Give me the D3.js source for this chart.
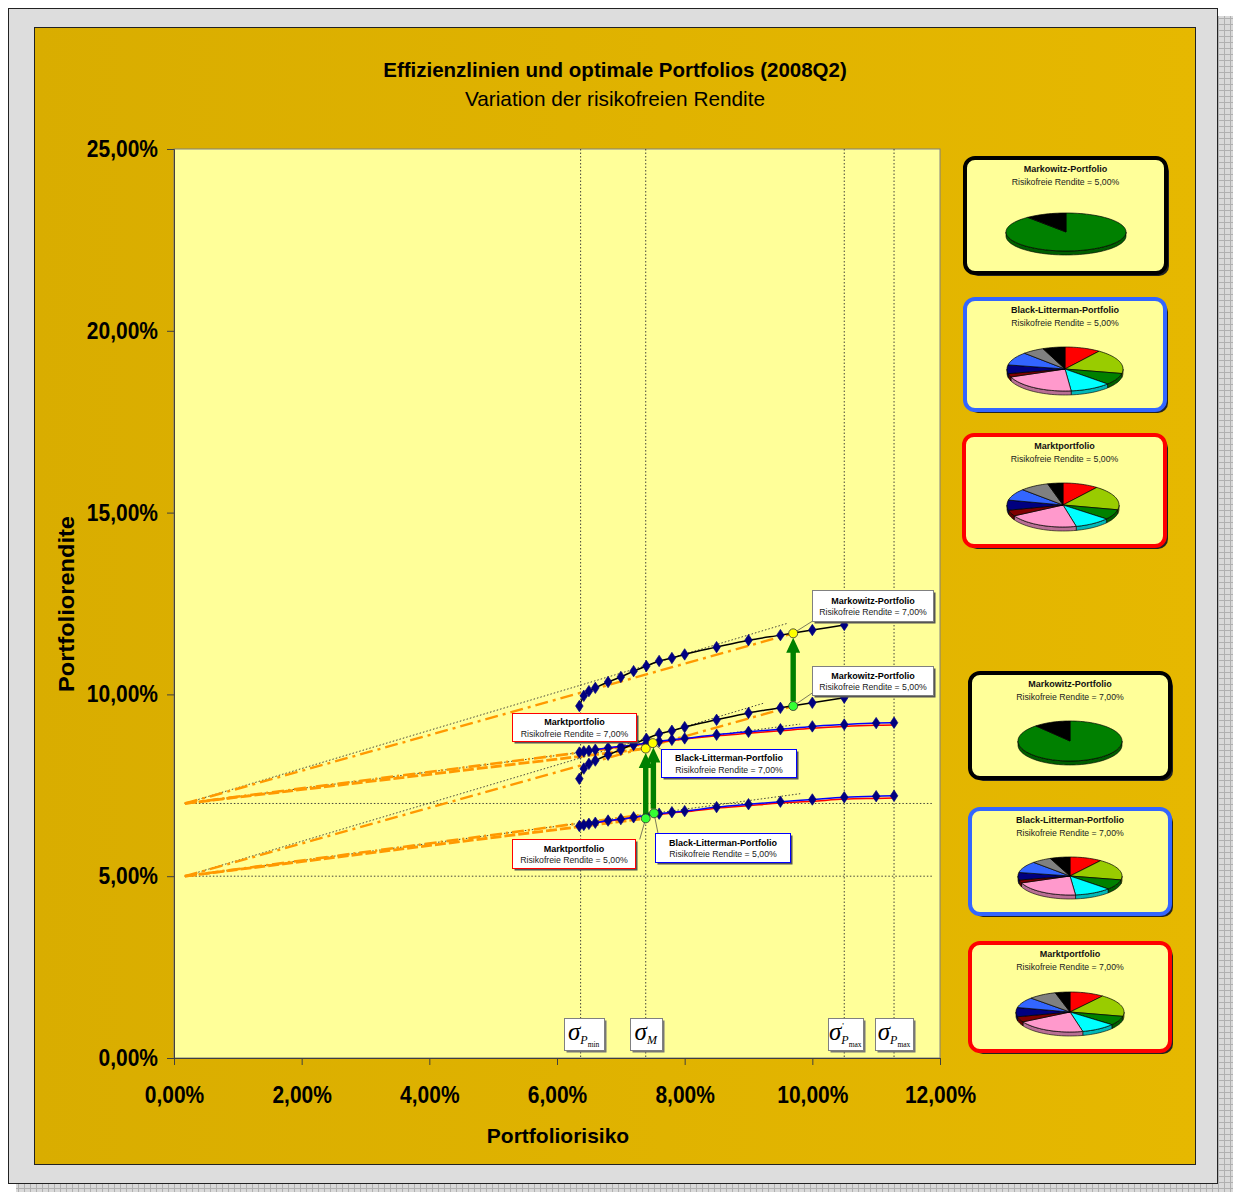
<!DOCTYPE html>
<html>
<head>
<meta charset="utf-8">
<script src="https://cdn.jsdelivr.net/npm/d3@7"></script>
<style>
  body { margin: 0; background: #ffffff; }
  svg { display: block; }
</style>
</head>
<body>
<svg id="chart" width="1233" height="1192"></svg>
<script>
// ---------- data (percent) ----------
const riskFreeRates = [5, 7];
const riskFreeSigma = 0.17;

// Markowitz efficient frontier
const sigmaMarkowitz = [6.35, 6.42, 6.50, 6.60, 6.80, 7.00, 7.20, 7.40, 7.60, 7.80, 8.00, 8.50, 9.00, 9.50, 10.00, 10.50];
const muMarkowitz5  = [7.68, 7.96, 8.09, 8.18, 8.34, 8.48, 8.64, 8.78, 8.92, 9.00, 9.10, 9.30, 9.49, 9.63, 9.77, 9.91];
const muMarkowitz7  = [9.68, 9.96, 10.09, 10.18, 10.34, 10.48, 10.64, 10.78, 10.92, 11.00, 11.10, 11.30, 11.49, 11.63, 11.77, 11.91];

// Black-Litterman and market (implied) frontiers
const sigmaBL   = [6.35, 6.42, 6.50, 6.60, 6.80, 7.00, 7.20, 7.40, 7.60, 7.80, 8.00, 8.50, 9.00, 9.50, 10.00, 10.50, 11.00, 11.28];
const muBL5     = [6.38, 6.41, 6.44, 6.47, 6.53, 6.57, 6.62, 6.67, 6.72, 6.76, 6.79, 6.90, 6.98, 7.05, 7.11, 7.17, 7.20, 7.21];
const muBL7     = [8.40, 8.43, 8.45, 8.48, 8.53, 8.57, 8.61, 8.66, 8.71, 8.75, 8.79, 8.89, 8.97, 9.04, 9.12, 9.17, 9.21, 9.22];
const muMarket5 = [6.38, 6.41, 6.44, 6.47, 6.52, 6.56, 6.61, 6.66, 6.70, 6.74, 6.77, 6.87, 6.94, 7.01, 7.06, 7.12, 7.14, 7.15];
const muMarket7 = [8.40, 8.43, 8.45, 8.48, 8.52, 8.56, 8.60, 8.65, 8.69, 8.73, 8.77, 8.86, 8.93, 9.00, 9.07, 9.12, 9.15, 9.16];

// optimal (tangency) portfolios, one entry per risk-free rate [5 %, 7 %]
const optSigmaMarkowitz = [9.70, 9.70];
const optMuMarkowitz    = [9.68, 11.68];
const optSigmaMarket    = [7.39, 7.39];
const optMuMarket       = [6.59, 8.51];
const optSigmaBL        = [7.52, 7.50];
const optMuBL           = [6.73, 8.66];

// steeper reference lines from the risk-free point
const refEndSigmaMarkowitz = [9.24, 9.62];
const refEndMuMarkowitz    = [9.76, 11.96];
const refEndSigmaBL        = [9.81, 9.81];

// characteristic risk levels
const sigmaMarkers = ['Pmin', 'M', 'Pmax\'', 'Pmax'];
const sigmaMarkerValues = [6.37, 7.39, 10.50, 11.28];

// axis ticks
const xTicks = [0, 2, 4, 6, 8, 10, 12];
const yTicks = [0, 5, 10, 15, 20, 25];

// portfolio weights (asset order fixed, clockwise from 12 o'clock)
const assetColors = ['#FF0000', '#99CC00', '#008000', '#00FFFF', '#FF99CC', '#800000', '#000080', '#3366FF', '#808080', '#000000'];
const weightsMarkowitz5 = [0, 0, 89.0, 0, 0, 0, 0, 0, 0, 11.0];
const weightsMarkowitz7 = [0, 0, 88.6, 0, 0, 0, 0, 0, 0, 11.4];
const weightsBL5     = [10.0, 18.3, 8.6, 11.4, 20.8, 2.5, 6.4, 9.7, 6.1, 6.2];
const weightsBL7     = [10.0, 18.3, 8.6, 11.4, 20.8, 2.5, 6.4, 9.7, 6.1, 6.2];
const weightsMarket5 = [10.3, 18.2, 7.4, 10.3, 20.6, 4.4, 7.4, 8.6, 8.4, 4.4];
const weightsMarket7 = [10.3, 18.2, 7.4, 10.3, 20.6, 4.4, 7.4, 8.6, 8.4, 4.4];

// ---------- helpers ----------
const fmtPct = v => d3.format('.2f')(v).replace('.', ',') + '%';
const FONT = "'Liberation Sans', Arial, sans-serif";
const SERIF = "'Liberation Serif', 'Times New Roman', serif";

const svg = d3.select('#chart');
const defs = svg.append('defs');

const mesh = defs.append('pattern').attr('id', 'mesh')
  .attr('width', 6).attr('height', 6).attr('patternUnits', 'userSpaceOnUse');
mesh.append('rect').attr('width', 6).attr('height', 6).attr('fill', '#d9d9d9');
mesh.append('path').attr('d', 'M0,0.5H6M0.5,0V6').attr('stroke', '#b0b0b0').attr('stroke-width', 1);

const gold = defs.append('linearGradient').attr('id', 'gold')
  .attr('x1', 0).attr('x2', 1).attr('y1', 0).attr('y2', 0);
gold.append('stop').attr('offset', 0).attr('stop-color', '#d9ad00');
gold.append('stop').attr('offset', 1).attr('stop-color', '#e6b800');

// frame, drop shadow and chart panel
svg.append('rect').attr('x', 16).attr('y', 16).attr('width', 1217).attr('height', 1176).attr('fill', 'url(#mesh)');
svg.append('rect').attr('x', 8.5).attr('y', 8.5).attr('width', 1209).attr('height', 1175)
  .attr('fill', '#dddddd').attr('stroke', '#222').attr('stroke-width', 1);
svg.append('rect').attr('x', 34.5).attr('y', 27.5).attr('width', 1161).attr('height', 1137)
  .attr('fill', 'url(#gold)').attr('stroke', '#222').attr('stroke-width', 1);

// titles
svg.append('text').attr('x', 615).attr('y', 77).attr('text-anchor', 'middle')
  .attr('font-family', FONT).attr('font-size', 20.5).attr('font-weight', 'bold').attr('fill', '#000')
  .text('Effizienzlinien und optimale Portfolios (2008Q2)');
svg.append('text').attr('x', 615).attr('y', 106).attr('text-anchor', 'middle')
  .attr('font-family', FONT).attr('font-size', 20.8).attr('fill', '#000')
  .text('Variation der risikofreien Rendite');

// ---------- plot area ----------
const PL = 174, PR = 940, PT = 149, PB = 1058;
const x = d3.scaleLinear().domain([0, 12]).range([PL, PR]);
const y = d3.scaleLinear().domain([0, 25]).range([PB, PT]);

svg.append('rect').attr('x', PL).attr('y', PT).attr('width', PR - PL).attr('height', PB - PT)
  .attr('fill', '#FFFF99').attr('stroke', '#808080').attr('stroke-width', 1);

defs.append('clipPath').attr('id', 'plotClip').append('rect')
  .attr('x', PL).attr('y', PT).attr('width', PR - PL).attr('height', PB - PT);

// axes (tick labels slightly stretched vertically)
const yAxis = d3.axisLeft(y).tickValues(yTicks).tickSize(7).tickPadding(9).tickFormat(fmtPct);
const xAxis = d3.axisBottom(x).tickValues(xTicks).tickSize(7).tickPadding(18).tickFormat(fmtPct);
const gy = svg.append('g').attr('transform', `translate(${PL},0)`).call(yAxis);
const gx = svg.append('g').attr('transform', `translate(0,${PB})`).call(xAxis);
[gx, gy].forEach(g => {
  g.select('.domain').attr('stroke', '#404040');
  g.selectAll('.tick line').attr('stroke', '#404040');
  g.selectAll('.tick text').attr('font-family', FONT).attr('font-size', 21)
    .attr('font-weight', 'bold').attr('fill', '#000').attr('transform', 'scale(1,1.12)');
});

svg.append('text').attr('x', 558).attr('y', 1143).attr('text-anchor', 'middle')
  .attr('font-family', FONT).attr('font-size', 21).attr('font-weight', 'bold').text('Portfoliorisiko');
svg.append('text').attr('transform', 'translate(74,604) rotate(-90)').attr('text-anchor', 'middle')
  .attr('font-family', FONT).attr('font-size', 22).attr('font-weight', 'bold')
  .attr('textLength', 176).attr('lengthAdjust', 'spacingAndGlyphs').text('Portfoliorendite');

const plotG = svg.append('g').attr('clip-path', 'url(#plotClip)');

const DOT = { stroke: '#303030', 'stroke-width': 0.9, 'stroke-dasharray': '1.5,2' };
const applyAttrs = (sel, attrs) => { Object.entries(attrs).forEach(([k, v]) => sel.attr(k, v)); return sel; };
const seg = (x1, y1, x2, y2) => `M${x(x1)},${y(y1)}L${x(x2)},${y(y2)}`;

// vertical risk markers
sigmaMarkerValues.forEach(s => {
  applyAttrs(plotG.append('path').attr('d', `M${x(s)},${PT}V${PB}`).attr('fill', 'none'), DOT);
});

// horizontal risk-free levels
riskFreeRates.forEach(r => {
  applyAttrs(plotG.append('path').attr('d', seg(riskFreeSigma, r, 11.9, r)).attr('fill', 'none'), DOT);
});

// lines from the risk-free points
riskFreeRates.forEach((r, i) => {
  // steep reference line (Markowitz)
  applyAttrs(plotG.append('path').attr('fill', 'none')
    .attr('d', seg(riskFreeSigma, r, refEndSigmaMarkowitz[i], refEndMuMarkowitz[i])), DOT);
  // reference line through the Black-Litterman optimum
  const slopeBL = (optMuBL[i] - r) / (optSigmaBL[i] - riskFreeSigma);
  const endBL = r + slopeBL * (refEndSigmaBL[i] - riskFreeSigma);
  applyAttrs(plotG.append('path').attr('fill', 'none')
    .attr('d', seg(riskFreeSigma, r, refEndSigmaBL[i], endBL)), DOT);
  // capital market lines
  plotG.append('path').attr('fill', 'none')
    .attr('d', seg(riskFreeSigma, r, optSigmaMarkowitz[i], optMuMarkowitz[i]))
    .attr('stroke', '#FF9900').attr('stroke-width', 2.4).attr('stroke-dasharray', '13,5,3,5');
  plotG.append('path').attr('fill', 'none')
    .attr('d', seg(riskFreeSigma, r, optSigmaMarket[i], optMuMarket[i]))
    .attr('stroke', '#FF9900').attr('stroke-width', 2.8).attr('stroke-dasharray', '11,3');
  plotG.append('path').attr('fill', 'none')
    .attr('d', seg(riskFreeSigma, r, optSigmaBL[i], optMuBL[i]))
    .attr('stroke', '#FF9900').attr('stroke-width', 2.6).attr('stroke-dasharray', '12,4,2,4');
});

// frontiers
const line = d3.line().x(d => x(d[0])).y(d => y(d[1])).curve(d3.curveMonotoneX);
const zip = (a, b) => a.map((v, i) => [v, b[i]]);
const frontiers = [
  { pts: zip(sigmaBL, muMarket5), color: '#FF0000', marks: false },
  { pts: zip(sigmaBL, muMarket7), color: '#FF0000', marks: false },
  { pts: zip(sigmaBL, muBL5), color: '#0000FF', marks: true },
  { pts: zip(sigmaBL, muBL7), color: '#0000FF', marks: true },
  { pts: zip(sigmaMarkowitz, muMarkowitz5), color: '#000000', marks: true },
  { pts: zip(sigmaMarkowitz, muMarkowitz7), color: '#000000', marks: true }
];
frontiers.forEach(f => {
  plotG.append('path').attr('d', line(f.pts)).attr('fill', 'none')
    .attr('stroke', f.color).attr('stroke-width', 1.5);
});
const diamond = d3.symbol().type(d3.symbolDiamond).size(38);
frontiers.filter(f => f.marks).forEach(f => {
  plotG.selectAll(null).data(f.pts).join('path')
    .attr('d', diamond).attr('transform', d => `translate(${x(d[0])},${y(d[1])}) scale(1.15,1)`)
    .attr('fill', '#000080').attr('stroke', '#000080').attr('stroke-width', 0.6);
});

// arrows from the 5 % optimum to the 7 % optimum
const R = 4.5;
function arrow(sx, m0, m1) {
  const cx = x(sx), y0 = y(m0) - R, y1 = y(m1) + R;
  const hl = 15, hw = 7, sw = 2.7;
  return `M${cx - sw},${y0}V${y1 + hl}H${cx - hw}L${cx},${y1}L${cx + hw},${y1 + hl}H${cx + sw}V${y0}Z`;
}
[[optSigmaMarket, optMuMarket], [optSigmaBL, optMuBL], [optSigmaMarkowitz, optMuMarkowitz]].forEach(([s, m]) => {
  plotG.append('path').attr('d', arrow((s[0] + s[1]) / 2, m[0], m[1])).attr('fill', '#008000');
});

// leader lines and labels
const labelLayout = [
  { name: 'Markowitz-Portfolio', sig: optSigmaMarkowitz, mu: optMuMarkowitz, border: '#808080',
    boxes: [{ dx: 19, dy: -40, w: 121, h: 29, lx: 19, ly: -13 }, { dx: 19, dy: -43, w: 121, h: 31, lx: 19, ly: -12 }] },
  { name: 'Marktportfolio', sig: optSigmaMarket, mu: optMuMarket, border: '#FF0000',
    boxes: [{ dx: -134, dy: 21, w: 123, h: 29, lx: -6, ly: 21 }, { dx: -134, dy: -36, w: 124, h: 28, lx: -10, ly: -8 }] },
  { name: 'Black-Litterman-Portfolio', sig: optSigmaBL, mu: optMuBL, border: '#0000FF',
    boxes: [{ dx: 1, dy: 20, w: 135, h: 29, lx: 4, ly: 20 }, { dx: 8, dy: 6, w: 135, h: 28, lx: 8, ly: 6 }] }
];
const annG = svg.append('g');
labelLayout.forEach(L => {
  riskFreeRates.forEach((r, i) => {
    const px = x(L.sig[i]), py = y(L.mu[i]);
    const b = L.boxes[i];
    annG.append('path').attr('d', `M${px},${py}L${px + b.lx},${py + b.ly}`)
      .attr('stroke', '#404040').attr('stroke-width', 0.7).attr('fill', 'none');
  });
});
// optimum markers
labelLayout.forEach(L => {
  riskFreeRates.forEach((r, i) => {
    annG.append('circle').attr('cx', x(L.sig[i])).attr('cy', y(L.mu[i])).attr('r', R)
      .attr('fill', i === 0 ? '#33FF33' : '#FFFF00').attr('stroke', '#303030').attr('stroke-width', 0.8);
  });
});
labelLayout.forEach(L => {
  riskFreeRates.forEach((r, i) => {
    const px = x(L.sig[i]), py = y(L.mu[i]);
    const b = L.boxes[i];
    const bx = Math.round(px + b.dx) + 0.5, by = Math.round(py + b.dy) + 0.5;
    annG.append('rect').attr('x', bx + 2).attr('y', by + 2).attr('width', b.w).attr('height', b.h).attr('fill', '#555');
    annG.append('rect').attr('x', bx).attr('y', by).attr('width', b.w).attr('height', b.h)
      .attr('fill', '#fff').attr('stroke', L.border).attr('stroke-width', 1);
    annG.append('text').attr('x', bx + b.w / 2).attr('y', by + b.h / 2 - 2.5).attr('text-anchor', 'middle')
      .attr('font-family', FONT).attr('font-size', 9).attr('font-weight', 'bold').text(L.name);
    annG.append('text').attr('x', bx + b.w / 2).attr('y', by + b.h / 2 + 9).attr('text-anchor', 'middle')
      .attr('font-family', FONT).attr('font-size', 8.7).attr('fill', '#222')
      .text('Risikofreie Rendite = ' + fmtPct(r));
  });
});

// sigma marker labels
const sigBoxW = [40, 32, 35, 38];
const sigBoxShift = [3, 0, 1, 0];
sigmaMarkers.forEach((m, i) => {
  const cx = x(sigmaMarkerValues[i]) + sigBoxShift[i];
  const w = sigBoxW[i], bx = Math.round(cx - w / 2) + 0.5, by = 1018.5, h = 32;
  annG.append('rect').attr('x', bx + 2).attr('y', by + 2).attr('width', w).attr('height', h).attr('fill', '#777');
  annG.append('rect').attr('x', bx).attr('y', by).attr('width', w).attr('height', h)
    .attr('fill', '#fff').attr('stroke', '#808080');
  const prime = m.endsWith('\'');
  const sub = prime ? m.slice(0, -1) : m;
  const t = annG.append('text').attr('x', cx).attr('y', by + 21).attr('text-anchor', 'middle')
    .attr('font-family', SERIF).attr('fill', '#000');
  t.append('tspan').attr('font-size', 25).attr('font-style', 'italic').text('σ');
  t.append('tspan').attr('font-size', 12).attr('font-style', 'italic').attr('dy', 4).text(sub[0]);
  if (sub.length > 1) t.append('tspan').attr('font-size', 7.5).attr('dy', 3).text(sub.slice(1));
  if (prime) {
    annG.append('text').attr('x', cx - 3).attr('y', by + 10).attr('font-family', SERIF)
      .attr('font-size', 9).text('\'');
  }
});

// ---------- pie chart panels ----------
const pieBoxes = [
  { title: 'Markowitz-Portfolio', rf: 5, w: weightsMarkowitz5, border: '#000000', x: 965, y: 158, bw: 201, bh: 115, pcx: 101, pcy: 74, rx: 60, ry: 19 },
  { title: 'Black-Litterman-Portfolio', rf: 5, w: weightsBL5, border: '#3366FF', x: 965, y: 299, bw: 200, bh: 111, pcx: 100, pcy: 70, rx: 58, ry: 22 },
  { title: 'Marktportfolio', rf: 5, w: weightsMarket5, border: '#FF0000', x: 964, y: 435, bw: 201, bh: 111, pcx: 99, pcy: 70, rx: 56, ry: 22 },
  { title: 'Markowitz-Portfolio', rf: 7, w: weightsMarkowitz7, border: '#000000', x: 970, y: 673, bw: 200, bh: 105, pcx: 100, pcy: 68, rx: 52, ry: 20 },
  { title: 'Black-Litterman-Portfolio', rf: 7, w: weightsBL7, border: '#3366FF', x: 970, y: 809, bw: 200, bh: 105, pcx: 100, pcy: 67, rx: 52, ry: 19 },
  { title: 'Marktportfolio', rf: 7, w: weightsMarket7, border: '#FF0000', x: 970, y: 943, bw: 200, bh: 108, pcx: 100, pcy: 69, rx: 54, ry: 20 }
];

const pieLayout = d3.pie().sort(null).value(d => d.w);

function drawPie(g, cx, cy, rx, ry, depth, weights) {
  const slices = pieLayout(weights.map((w, i) => ({ w, c: assetColors[i] }))).filter(s => s.data.w > 0);
  const pt = (a, dy) => [cx + rx * Math.sin(a), cy - ry * Math.cos(a) + (dy || 0)];
  const arcPts = (a0, a1, dy) => {
    const n = Math.max(2, Math.ceil((a1 - a0) / 0.05));
    return d3.range(n + 1).map(k => pt(a0 + (a1 - a0) * k / n, dy));
  };
  // side walls (front half only)
  slices.forEach(s => {
    const a0 = Math.max(s.startAngle, Math.PI / 2), a1 = Math.min(s.endAngle, 3 * Math.PI / 2);
    if (a1 <= a0) return;
    const top = arcPts(a0, a1, 0), bot = arcPts(a0, a1, depth).reverse();
    g.append('path').attr('d', 'M' + top.concat(bot).map(p => p.join(',')).join('L') + 'Z')
      .attr('fill', d3.color(s.data.c).darker(0.9)).attr('stroke', '#000').attr('stroke-width', 0.6);
  });
  // top faces
  slices.forEach(s => {
    const pts = arcPts(s.startAngle, s.endAngle, 0);
    g.append('path').attr('d', `M${cx},${cy}L` + pts.map(p => p.join(',')).join('L') + 'Z')
      .attr('fill', s.data.c).attr('stroke', '#000').attr('stroke-width', 0.7);
  });
}

pieBoxes.forEach(p => {
  const g = svg.append('g');
  g.append('rect').attr('x', p.x + 3).attr('y', p.y + 3).attr('width', p.bw).attr('height', p.bh)
    .attr('rx', 10).attr('fill', '#222');
  g.append('rect').attr('x', p.x).attr('y', p.y).attr('width', p.bw).attr('height', p.bh)
    .attr('rx', 10).attr('fill', '#FFFF99').attr('stroke', p.border).attr('stroke-width', 4);
  g.append('text').attr('x', p.x + p.bw / 2).attr('y', p.y + 14).attr('text-anchor', 'middle')
    .attr('font-family', FONT).attr('font-size', 9).attr('font-weight', 'bold').attr('fill', '#111').text(p.title);
  g.append('text').attr('x', p.x + p.bw / 2).attr('y', p.y + 27).attr('text-anchor', 'middle')
    .attr('font-family', FONT).attr('font-size', 8.7).attr('fill', '#222').text('Risikofreie Rendite = ' + fmtPct(p.rf));
  drawPie(g, p.x + p.pcx, p.y + p.pcy, p.rx, p.ry, 4, p.w);
});
</script>
</body>
</html>
